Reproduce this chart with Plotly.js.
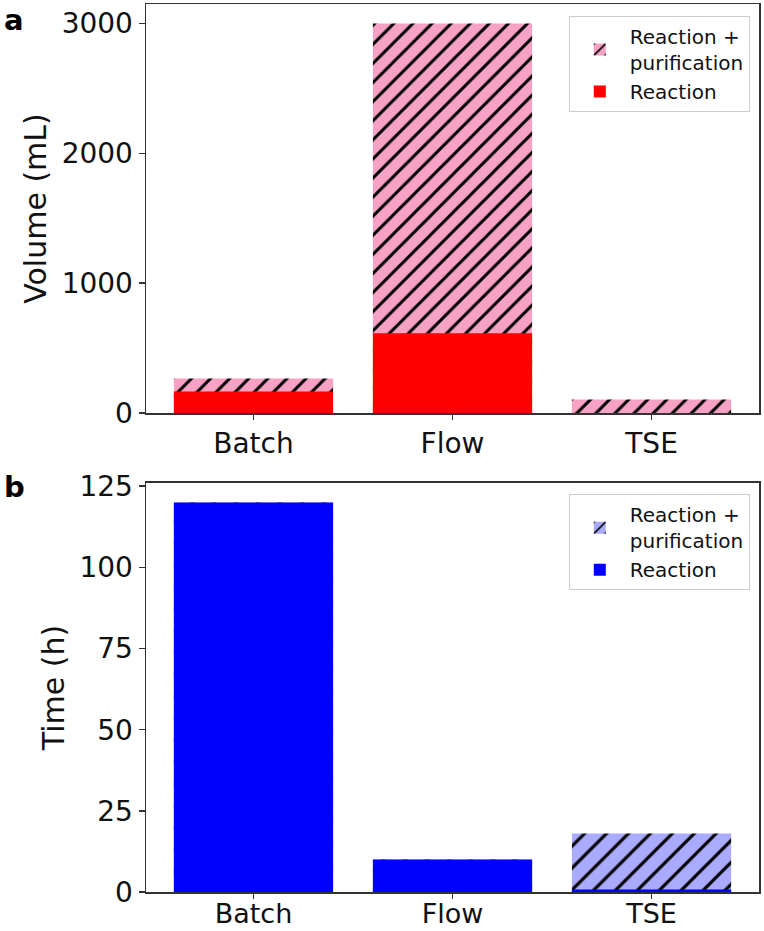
<!DOCTYPE html>
<html>
<head>
<meta charset="utf-8">
<script src="https://cdn.plot.ly/plotly-3.0.1.min.js"></script>
<style>html,body{margin:0;padding:0;background:#fff;}#chart{width:764px;height:931px;}</style>
</head>
<body>
<div id="chart"></div>
<script>
// Data
const categories = ["Batch", "Flow", "TSE"];
const volumeReactionPurification = [265, 3000, 105];
const volumeReaction = [165, 615, 0];
const timeReactionPurification = [120, 10, 18];
const timeReaction = [120, 10, 0.8];
const volumeTicks = [0, 1000, 2000, 3000];
const timeTicks = [0, 25, 50, 75, 100, 125];
const seriesNames = ["Reaction +<br>purification", "Reaction"];

const FONT = "DejaVu Sans, sans-serif";
const AX = "#333333";

const traces = [
  {type: "bar", x: categories, y: volumeReactionPurification, name: seriesNames[0],
   xaxis: "x", yaxis: "y", width: 0.8, legend: "legend",
   marker: {color: "#f7a1c4", line: {width: 0},
     pattern: {shape: "/", fgcolor: "#000000", fgopacity: 1, bgcolor: "#f7a1c4", size: 13.5, solidity: 0.22, fillmode: "overlay"}}},
  {type: "bar", x: categories, y: volumeReaction, name: seriesNames[1],
   xaxis: "x", yaxis: "y", width: 0.8, legend: "legend",
   marker: {color: "#ff0000", line: {width: 0}}},
  {type: "bar", x: categories, y: timeReactionPurification, name: seriesNames[0],
   xaxis: "x2", yaxis: "y2", width: 0.8, legend: "legend2",
   marker: {color: "#aaaaff", line: {width: 0},
     pattern: {shape: "/", fgcolor: "#000000", fgopacity: 1, bgcolor: "#aaaaff", size: 15.5, solidity: 0.2, fillmode: "overlay"}}},
  {type: "bar", x: categories, y: timeReaction, name: seriesNames[1],
   xaxis: "x2", yaxis: "y2", width: 0.8, legend: "legend2",
   marker: {color: "#0000ff", line: {width: 0}}}
];

const xCommon = {
  range: [-0.54, 2.54], showline: true, mirror: true, linecolor: AX, linewidth: 1.5,
  ticks: "outside", ticklen: 5, tickwidth: 1.5, tickcolor: AX,
  tickfont: {family: FONT, size: 28, color: "#111"}, showgrid: false, zeroline: false, fixedrange: true
};
const yCommon = {
  showline: true, mirror: true, linecolor: AX, linewidth: 1.5,
  ticks: "outside", ticklen: 6, tickwidth: 1.5, tickcolor: AX,
  tickfont: {family: FONT, size: 28, color: "#111"}, showgrid: false, zeroline: false
};

const legendCommon = {
  font: {family: FONT, size: 20, color: "#111"}, bgcolor: "rgba(255,255,255,0.9)",
  bordercolor: "#cccccc", borderwidth: 1, xanchor: "right", yanchor: "top",
  traceorder: "normal", tracegroupgap: 0, itemwidth: 50
};

const layout = {
  width: 764, height: 931,
  margin: {l: 146, r: 5, t: 4, b: 39},
  paper_bgcolor: "#fff", plot_bgcolor: "#fff",
  barmode: "overlay",
  showlegend: true,
  xaxis: Object.assign({}, xCommon, {domain: [0, 1], anchor: "y"}),
  yaxis: Object.assign({}, yCommon, {domain: [0.5394, 1], anchor: "x", range: [0, 3150],
    tickvals: volumeTicks, ticktext: volumeTicks.map(String),
    title: {text: "Volume (mL)", font: {family: FONT, size: 30, color: "#111"}, standoff: 6}}),
  xaxis2: Object.assign({}, xCommon, {domain: [0, 1], anchor: "y2", ticklabelstandoff: -8,
    tickfont: {family: FONT, size: 27, color: "#111"}}),
  yaxis2: Object.assign({}, yCommon, {domain: [0, 0.4606], anchor: "x2", range: [0, 126],
    tickvals: timeTicks, ticktext: timeTicks.map(String),
    title: {text: "Time (h)", font: {family: FONT, size: 30, color: "#111"}, standoff: 6}}),
  legend: Object.assign({}, legendCommon, {x: 0.985, y: 0.9865}),
  legend2: Object.assign({}, legendCommon, {x: 0.985, y: 0.448}),
  annotations: [
    {text: "<b>a</b>", xref: "paper", yref: "paper", x: -0.235, y: 1.003, xanchor: "left", yanchor: "top",
     showarrow: false, font: {family: FONT, size: 29, color: "#000"}},
    {text: "<b>b</b>", xref: "paper", yref: "paper", x: -0.235, y: 0.478, xanchor: "left", yanchor: "top",
     showarrow: false, font: {family: FONT, size: 29, color: "#000"}}
  ]
};

Plotly.newPlot("chart", traces, layout, {displayModeBar: false, staticPlot: true});
</script>
</body>
</html>
